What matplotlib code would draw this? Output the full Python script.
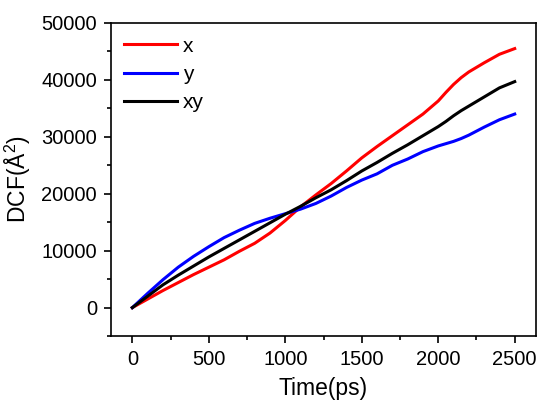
import matplotlib
matplotlib.use("Agg")
import matplotlib.pyplot as plt
from matplotlib.ticker import MultipleLocator

plt.rcParams['font.family'] = ['Liberation Sans', 'DejaVu Sans']
plt.rcParams['mathtext.fontset'] = 'custom'
plt.rcParams['mathtext.rm'] = 'Liberation Sans'
plt.rcParams['mathtext.it'] = 'Liberation Sans'

# time (ps)
time_ps = [0, 100, 200, 300, 400, 500, 600, 700, 800, 900, 1000, 1100, 1200,
           1300, 1400, 1500, 1600, 1700, 1800, 1900, 2000, 2050, 2100, 2150,
           2200, 2300, 2400, 2500]
# DCF values
dcf_x = [0, 1500, 3000, 4400, 5800, 7100, 8400, 9900, 11300, 13100, 15300,
         17700, 19800, 21800, 24000, 26300, 28300, 30200, 32100, 34000, 36300,
         37800, 39200, 40400, 41400, 43000, 44500, 45500]
dcf_y = [0, 2500, 4900, 7100, 9000, 10700, 12300, 13600, 14800, 15700, 16500,
         17300, 18300, 19600, 21100, 22400, 23500, 25000, 26100, 27400, 28400,
         28800, 29200, 29700, 30300, 31700, 33000, 34000]
dcf_xy = [0, 2000, 4000, 5700, 7300, 8900, 10400, 11900, 13400, 14900, 16400,
          17800, 19300, 20700, 22300, 24000, 25500, 27100, 28600, 30200, 31800,
          32700, 33700, 34600, 35400, 37000, 38600, 39700]

fig = plt.figure(figsize=(5.41, 4.03), dpi=100)
ax = fig.add_axes([0.205, 0.166, 0.786, 0.777])

ax.plot(time_ps, dcf_x, color='#ff0000', lw=2.2, label='x')
ax.plot(time_ps, dcf_y, color='#0000ff', lw=2.2, label='y')
ax.plot(time_ps, dcf_xy, color='#000000', lw=2.2, label='xy')

ax.set_xlim(-140, 2640)
ax.set_ylim(-5000, 50000)
ax.xaxis.set_major_locator(MultipleLocator(500))
ax.xaxis.set_minor_locator(MultipleLocator(250))
ax.yaxis.set_major_locator(MultipleLocator(10000))
ax.yaxis.set_minor_locator(MultipleLocator(5000))
ax.tick_params(which='major', direction='out', length=5, width=1.2,
               labelsize=14.5, pad=5)
ax.tick_params(which='minor', direction='out', length=3, width=1.2)
for s in ax.spines.values():
    s.set_linewidth(1.2)

ax.set_xlabel('Time(ps)', fontsize=16.5, labelpad=6)
ax.set_ylabel('DCF(Å$^{2}$)', fontsize=16.5, labelpad=6)

ax.legend(loc='upper left', frameon=False, fontsize=15, handlelength=2.5,
          handletextpad=0.3, labelspacing=0.45, borderaxespad=0.25)

fig.savefig('out.png', dpi=100)
